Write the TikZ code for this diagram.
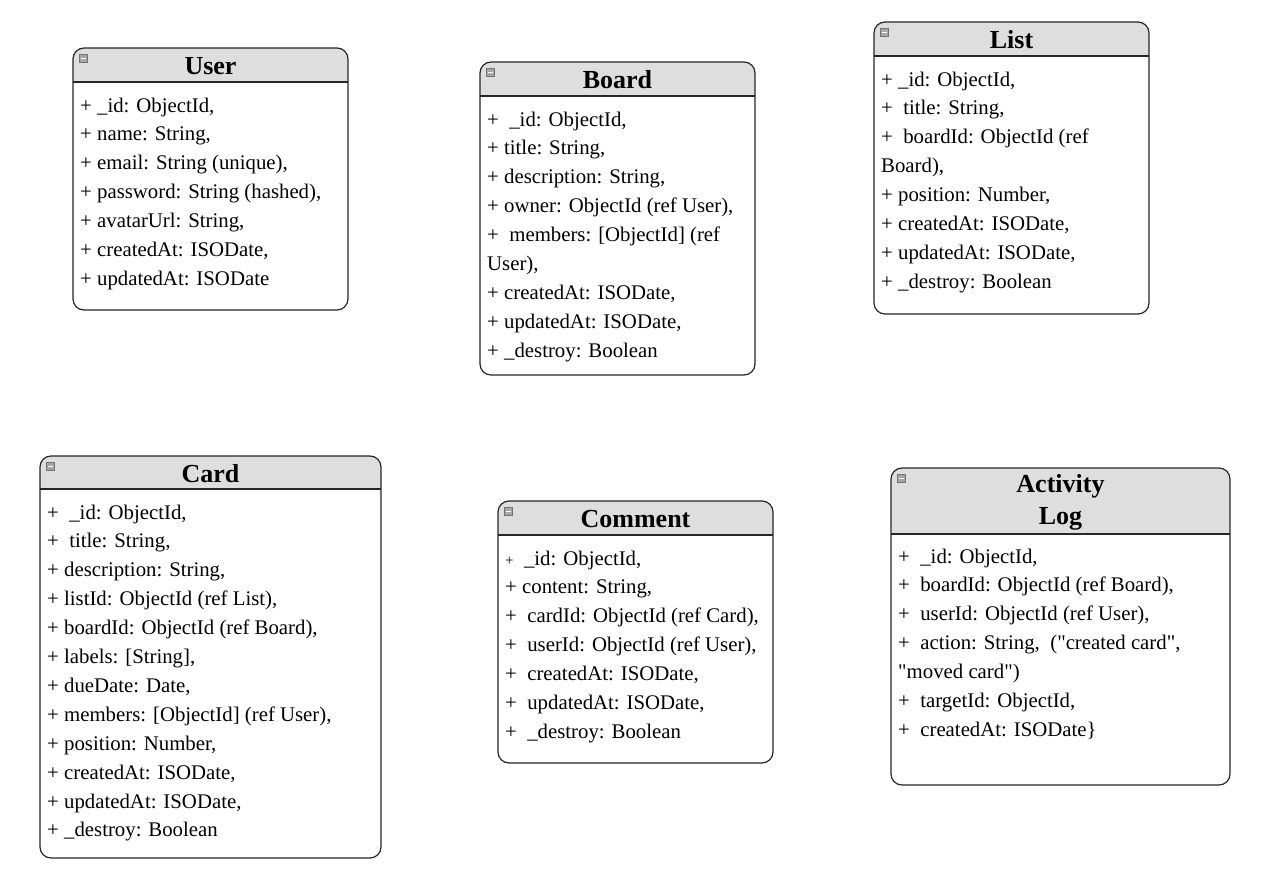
\documentclass[tikz,border=0pt]{standalone}
\usepackage{fontspec}
\setmainfont{Liberation Serif}
\usetikzlibrary{positioning}

\tikzset{
  frameline/.style={draw=black!85, line width=1.2},
  headfill/.style={fill=black!13},
  foldicon/.style={draw=black!55, fill=black!35, minimum size=8, inner sep=0},
  classtitle/.style={font=\fontsize{26}{32}\selectfont\bfseries, align=center, inner sep=0},
  attr/.style={font=\fontsize{20.8}{29}\selectfont, anchor=base west, inner sep=0},
}

% frame of one class: name, left, top, right, bottom, header bottom, title
\newcommand{\umlclass}[7]{%
  \coordinate (#1-nw) at (#2,#3);
  \coordinate (#1-se) at (#4,#5);
  \begin{scope}
    \clip[rounded corners=11] (#1-nw) rectangle (#1-se);
    \fill[headfill] (#1-nw) rectangle (#4,#6);
  \end{scope}
  \draw[frameline, rounded corners=11] (#1-nw) rectangle (#1-se);
  \draw[frameline] (#2,#6) -- (#4,#6);
  \node[foldicon] (#1-icon) at (#2+10.5,#3+10.5) {};
  \draw[white, line width=1] ([xshift=1.5]#1-icon.west) -- ([xshift=-1.5]#1-icon.east);
  \node[classtitle] (#1-title) at ({(#2+#4)/2},{(#3+#6)/2+1}) {#7};
}
% attribute rows: name, x, centre of first row, rows
\newcommand{\attrs}[4]{%
  \foreach \txt [count=\i from 0] in {#4}
    \node[attr] (#1-row\i) at (#2,#3+28.9*\i+7) {\txt};
}

\begin{document}
\begin{tikzpicture}[x=1pt,y=-1pt]
  \useasboundingbox[fill=white] (0,0) rectangle (1267,878);

  % top row
  \umlclass{user}{73}{48}{348}{310}{82}{User}
  \attrs{user}{80}{105}{{+ \_id: ObjectId,},{+ name: String,},{+ email: String (unique),},
    {+ password: String (hashed),},{+ avatarUrl: String,},{+ createdAt: ISODate,},
    {+ updatedAt: ISODate}}

  \umlclass{board}{480}{62}{755}{375}{96}{Board}
  \attrs{board}{487}{119}{{+ \ \_id: ObjectId,},{+ title: String,},{+ description: String,},
    {+ owner: ObjectId (ref User),},{+ \ members: [ObjectId] (ref},{User),},
    {+ createdAt: ISODate,},{+ updatedAt: ISODate,},{+ \_destroy: Boolean}}

  \umlclass{list}{874}{22}{1149}{314}{56}{List}
  \attrs{list}{881}{79}{{+ \_id: ObjectId,},{+ \ title: String,},{+ \ boardId: ObjectId (ref},
    {Board),},{+ position: Number,},{+ createdAt: ISODate,},{+ updatedAt: ISODate,},
    {+ \_destroy: Boolean}}

  % bottom row
  \umlclass{card}{40}{456}{381}{858}{489}{Card}
  \attrs{card}{47}{512}{{+ \ \_id: ObjectId,},{+ \ title: String,},{+ description: String,},
    {+ listId: ObjectId (ref List),},{+ boardId: ObjectId (ref Board),},{+ labels: [String],},
    {+ dueDate: Date,},{+ members: [ObjectId] (ref User),},{+ position: Number,},
    {+ createdAt: ISODate,},{+ updatedAt: ISODate,},{+ \_destroy: Boolean}}

  \umlclass{comment}{498}{501}{773}{763}{535}{Comment}
  \attrs{comment}{505}{558}{{{\fontsize{15}{15}\selectfont+} \ \_id: ObjectId,},{+ content: String,},
    {+ \ cardId: ObjectId (ref Card),},{+ \ userId: ObjectId (ref User),},
    {+ \ createdAt: ISODate,},{+ \ updatedAt: ISODate,},{+ \ \_destroy: Boolean}}

  \umlclass{alog}{891}{468}{1230}{785}{534}{Activity\\Log}
  \attrs{alog}{898}{556}{{+ \ \_id: ObjectId,},{+ \ boardId: ObjectId (ref Board),},
    {+ \ userId: ObjectId (ref User),},
    {+ \ action: String, \ (\textquotedbl created card\textquotedbl,},
    {\textquotedbl moved card\textquotedbl)},{+ \ targetId: ObjectId,},{+ \ createdAt: ISODate\}}}

\end{tikzpicture}
\end{document}
